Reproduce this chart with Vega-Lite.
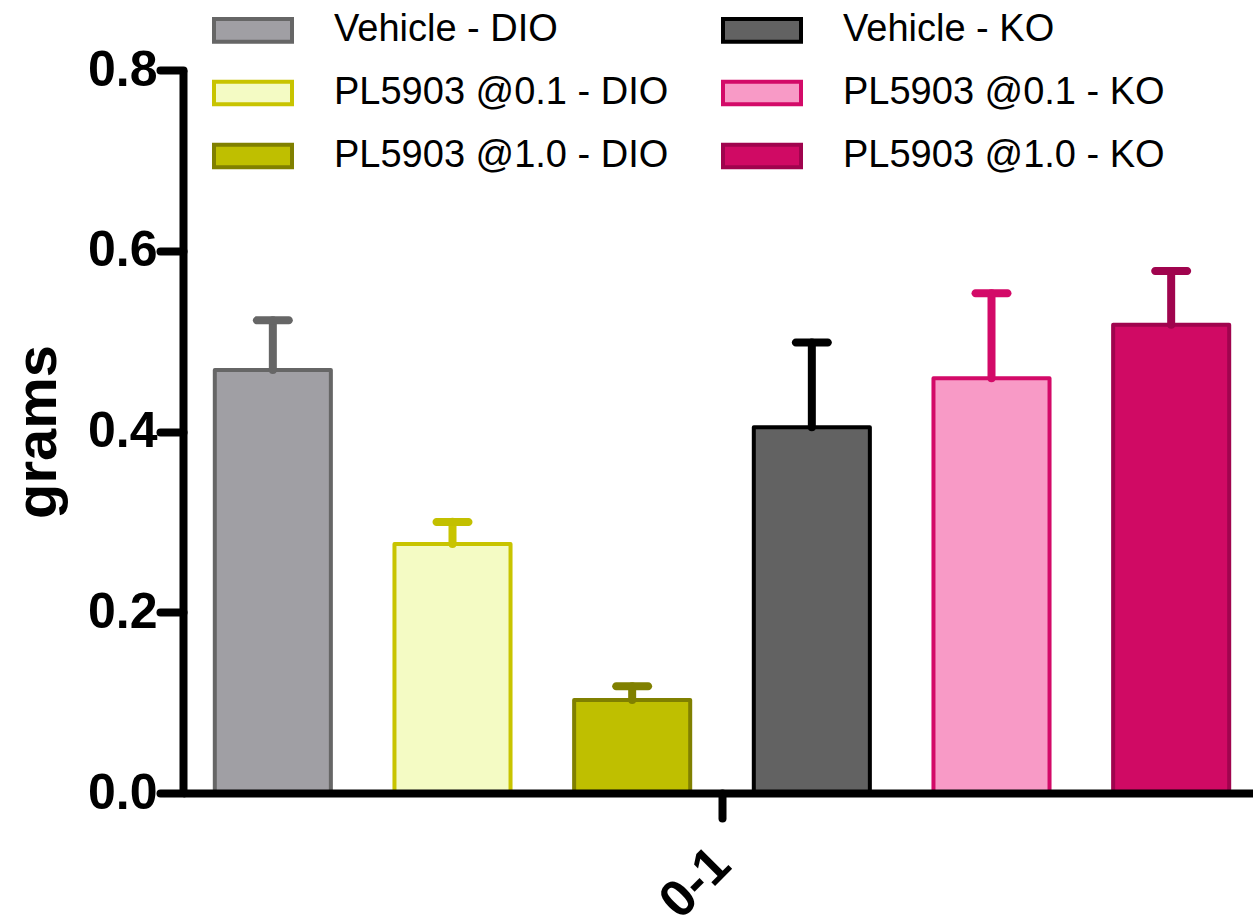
{
  "$schema": "https://vega.github.io/schema/vega-lite/v6.json",
  "width": 1078,
  "height": 723,
  "autosize": {"type": "none"},
  "padding": {"left": 183, "top": 70, "right": 0, "bottom": 123},
  "background": "white",
  "config": {"view": {"stroke": null}, "font": "Liberation Sans"},
  "data": {
    "values": [
      {"time": "0-1", "series": "Vehicle - DIO", "mean": 0.468, "upper": 0.523},
      {"time": "0-1", "series": "PL5903 @0.1 - DIO", "mean": 0.2755, "upper": 0.300},
      {"time": "0-1", "series": "PL5903 @1.0 - DIO", "mean": 0.103, "upper": 0.118},
      {"time": "0-1", "series": "Vehicle - KO", "mean": 0.4046, "upper": 0.4986},
      {"time": "0-1", "series": "PL5903 @0.1 - KO", "mean": 0.459, "upper": 0.553},
      {"time": "0-1", "series": "PL5903 @1.0 - KO", "mean": 0.518, "upper": 0.5776}
    ]
  },
  "encoding": {
    "x": {
      "field": "time",
      "type": "nominal",
      "scale": {"paddingInner": 0, "paddingOuter": 0},
      "axis": {
        "title": null,
        "domainColor": "black",
        "domainWidth": 8,
        "tickColor": "black",
        "tickWidth": 8,
        "tickSize": 25,
        "tickCap": "round",
        "labelAngle": -45,
        "labelAlign": "right",
        "labelBaseline": "middle",
        "labelFontSize": 52,
        "labelFontWeight": "bold",
        "labelColor": "black",
        "labelPadding": 38,
        "zindex": 1
      }
    },
    "xOffset": {
      "field": "series",
      "type": "nominal",
      "sort": ["Vehicle - DIO", "PL5903 @0.1 - DIO", "PL5903 @1.0 - DIO", "Vehicle - KO", "PL5903 @0.1 - KO", "PL5903 @1.0 - KO"],
      "scale": {"paddingInner": 0.354, "paddingOuter": 0.177}
    }
  },
  "layer": [
    {
      "mark": {"type": "bar", "strokeWidth": 4, "strokeJoin": "round"},
      "encoding": {
        "y": {
          "field": "mean",
          "type": "quantitative",
          "scale": {"domain": [0, 0.8], "nice": false},
          "axis": {
            "values": [0, 0.2, 0.4, 0.6, 0.8],
            "format": ".1f",
            "title": "grams",
            "titleFontSize": 58,
            "titleFontWeight": "bold",
            "titleColor": "black",
            "titlePadding": 20,
            "labelFontSize": 50,
            "labelFontWeight": "bold",
            "labelColor": "black",
            "labelPadding": 3,
            "tickSize": 23,
            "tickWidth": 8,
            "tickColor": "black",
            "tickCap": "round",
            "domainColor": "black",
            "domainWidth": 8,
            "grid": false,
            "zindex": 1
          }
        },
        "fill": {
          "field": "series",
          "type": "nominal",
          "scale": {
            "domain": ["Vehicle - DIO", "PL5903 @0.1 - DIO", "PL5903 @1.0 - DIO", "Vehicle - KO", "PL5903 @0.1 - KO", "PL5903 @1.0 - KO"],
            "range": ["#A09FA4", "#F4FBC4", "#BFBF00", "#626262", "#F89AC6", "#D00A64"]
          },
          "legend": {
            "title": null,
            "orient": "none",
            "legendX": 29,
            "legendY": -81,
            "columns": 2,
            "padding": 0,
            "rowPadding": 2,
            "columnPadding": 46,
            "labelOffset": 40,
            "labelFontSize": 38,
            "labelColor": "black",
            "labelLimit": 600,
            "symbolType": "M-1,-0.29H1V0.29H-1Z",
            "symbolSize": 6084,
            "symbolStrokeWidth": 4
          }
        },
        "stroke": {
          "field": "series",
          "type": "nominal",
          "scale": {
            "domain": ["Vehicle - DIO", "PL5903 @0.1 - DIO", "PL5903 @1.0 - DIO", "Vehicle - KO", "PL5903 @0.1 - KO", "PL5903 @1.0 - KO"],
            "range": ["#666666", "#C8C400", "#808000", "#000000", "#D30A68", "#A0044E"]
          },
          "legend": {
            "title": null,
            "orient": "none",
            "legendX": 29,
            "legendY": -81,
            "columns": 2,
            "padding": 0,
            "rowPadding": 2,
            "columnPadding": 46,
            "labelOffset": 40,
            "labelFontSize": 38,
            "labelColor": "black",
            "labelLimit": 600,
            "symbolType": "M-1,-0.29H1V0.29H-1Z",
            "symbolSize": 6084,
            "symbolStrokeWidth": 4
          }
        }
      }
    },
    {
      "mark": {"type": "rule", "strokeWidth": 8, "strokeCap": "round"},
      "encoding": {
        "y": {"field": "mean", "type": "quantitative"},
        "y2": {"field": "upper"},
        "stroke": {"field": "series", "type": "nominal"}
      }
    },
    {
      "mark": {"type": "tick", "size": 40, "thickness": 8, "cornerRadius": 4, "opacity": 1},
      "encoding": {
        "y": {"field": "upper", "type": "quantitative"},
        "color": {
          "field": "series",
          "type": "nominal",
          "scale": {
            "domain": ["Vehicle - DIO", "PL5903 @0.1 - DIO", "PL5903 @1.0 - DIO", "Vehicle - KO", "PL5903 @0.1 - KO", "PL5903 @1.0 - KO"],
            "range": ["#666666", "#C3C000", "#808000", "#000000", "#D30A68", "#A0044E"]
          },
          "legend": null
        }
      }
    }
  ]
}
